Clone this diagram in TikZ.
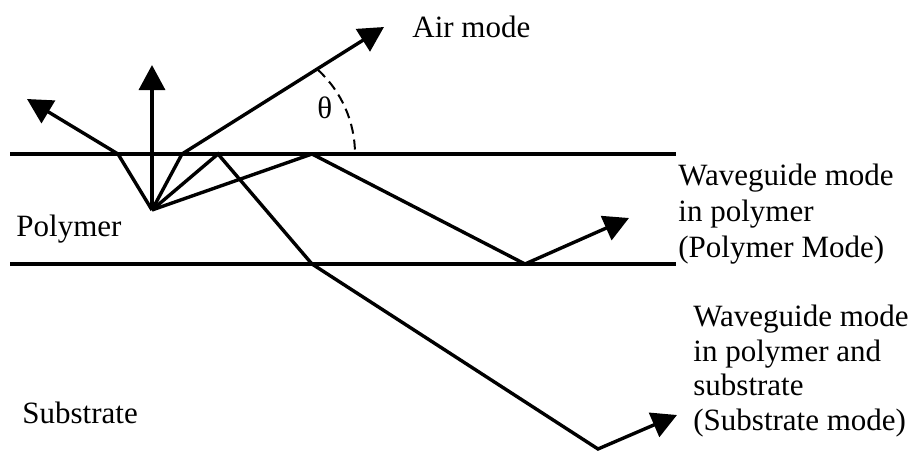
\documentclass[tikz,border=0pt]{standalone}
\usepackage{fontspec}
\setmainfont{Liberation Serif}
\usetikzlibrary{arrows.meta}
\begin{document}
\begin{tikzpicture}[x=0.5pt,y=-0.5pt,
  ray/.style={line width=1.7pt, line join=miter},
  arr/.style={ray,-{Triangle[length=12.5pt,width=13pt]}},
  iface/.style={line width=1.6pt},
  lbl/.style={font=\fontsize{15.5pt}{17.5pt}\selectfont, inner sep=0pt, align=left, anchor=base west}]
\useasboundingbox (0,0) rectangle (918,451);
% interfaces
\coordinate (TL) at (10,154);
\coordinate (TR) at (676,154);
\coordinate (BL) at (10,264);
\coordinate (BR) at (676,264);
\draw[iface] (TL) -- (TR);
\draw[iface] (BL) -- (BR);
% source and reflection points
\coordinate (S) at (152,210);
\coordinate (U) at (152,65);
\coordinate (P1) at (118,154);
\coordinate (E1) at (27,99);
\coordinate (P2) at (182,154);
\coordinate (E2) at (384,27);
\coordinate (P3) at (218,154);
\coordinate (Q3) at (312,264);
\coordinate (R3) at (598,449);
\coordinate (E3) at (677,415);
\coordinate (P4) at (312,154);
\coordinate (Q4) at (525,264);
\coordinate (E4) at (629,218);
\coordinate (AC) at (241,154);
% rays
\draw[arr] (S) -- (U);
\draw[arr] (S) -- (P1) -- (E1);
\draw[arr] (S) -- (P2) -- (E2);
\draw[arr] (S) -- (P3) -- (Q3) -- (R3) -- (E3);
\draw[arr] (S) -- (P4) -- (Q4) -- (E4);
% angle arc
\draw[line width=1pt, dash pattern=on 5pt off 3pt] ([shift={(-47.5:114)}]AC) arc[start angle=-47.5, end angle=0, radius=114];
\node[lbl] (theta) at (317,118) {θ};
% labels
\node[lbl] (air) at (412,37) {Air mode};
\node[lbl] (poly) at (16,236) {Polymer};
\node[lbl] (sub) at (22,423) {Substrate};
\node[lbl, font=\fontsize{15.5pt}{18pt}\selectfont] (pm) at (678,257) {Waveguide mode\\in polymer\\(Polymer Mode)};
\node[lbl, font=\fontsize{15.5pt}{17.2pt}\selectfont] (sm) at (693,430) {Waveguide mode\\in polymer and\\substrate\\(Substrate mode)};
\end{tikzpicture}
\end{document}
